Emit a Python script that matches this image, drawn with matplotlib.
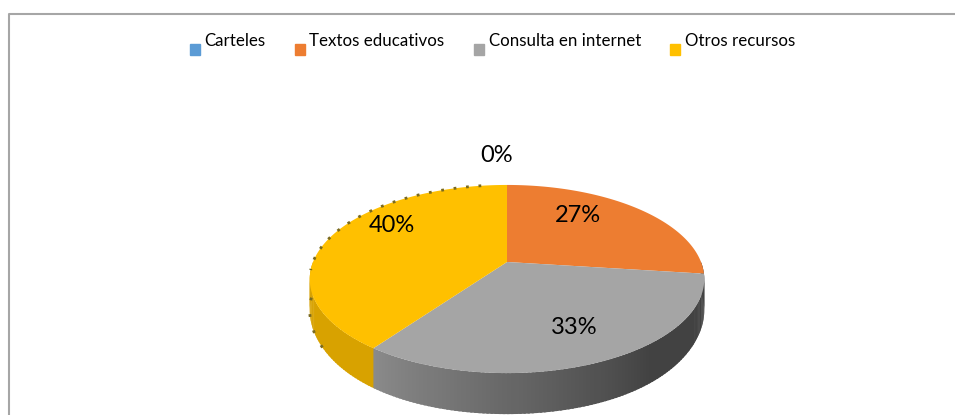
import numpy as np
import matplotlib
matplotlib.use('Agg')
import matplotlib.pyplot as plt
from matplotlib.patches import Patch, Rectangle
from matplotlib.legend_handler import HandlerPatch

plt.rcParams['font.family'] = ['Lato', 'DejaVu Sans']

# data
categories = ['Carteles', 'Textos educativos', 'Consulta en internet', 'Otros recursos']
values = [0, 27, 33, 40]
colors = ['#5B9BD5', '#ED7D31', '#A5A5A5', '#FFC000']
label_pos = [(497, 155), (578, 215), (574, 327), (392, 225)]

# pie geometry, in pixels of the picture
cx, cy = 507, 262
rx, ry = 194, 91
tilt = 0.181
depth = 41


def project(theta):
    # circle seen in perspective, so the near half comes out larger
    d = 1 + tilt * np.sin(theta)
    return cx + rx * np.cos(theta) / d, cy - ry * np.sin(theta) / d


def project_low(theta):
    # lower rim of the side wall, wall looks shallower towards the sides
    x, y = project(theta)
    return x, y + depth * (1 - 0.25 * np.cos(theta) ** 4)


def square_below(legend, orig_handle, xdescent, ydescent, width, height, fontsize):
    # legend squares sit lower than the text in the original
    return Rectangle((0, -6.3), 7.2, 7.9)


fig = plt.figure(figsize=(9.55, 4.15), dpi=100)
ax = fig.add_axes([0, 0, 1, 1])
ax.set_xlim(0, 955)
ax.set_ylim(415, 0)
ax.axis('off')

# chart frame, only left and top show in the crop
ax.plot([8.5, 8.5, 955], [415, 14, 14], color='#a6a6a6', lw=1.5)

# slice angles, clockwise from the top
edges = 90 - np.cumsum([0] + values) * 3.6
angles = np.radians(edges)

# side wall of the pie
t_split = angles[3]
ts = np.radians(np.linspace(-180, 0, 181))
for a, b in zip(ts[:-1], ts[1:]):
    x0, y0 = project(a)
    x1, y1 = project(b + 0.01)
    x2, y2 = project_low(b + 0.01)
    x3, y3 = project_low(a)
    if a < t_split:
        col = '#d8a200'
    else:
        f = min((a - t_split) / np.radians(75), 1.0)
        g = 0.54 + (0.26 - 0.54) * f
        col = (g, g, g)
    ax.fill([x0, x1, x2, x3], [y0, y1, y2, y3], color=col, lw=0)

# top of the pie
for i in range(len(values)):
    if values[i] == 0:
        continue
    t = np.linspace(angles[i], angles[i + 1], 200)
    x, y = project(t)
    ax.fill(np.r_[cx, x], np.r_[cy, y], color=colors[i], lw=0)

# dotted edge on the back left of the yellow slice
t = np.radians(np.linspace(99, 185, 60))
x, y = project(t)
ax.plot(x, y, color='#7a6a20', lw=2, ls=(0, (1, 3.5)))
t = np.radians(np.linspace(-177, -145, 20))
x, y = project_low(t)
ax.plot(x, y, color='#7a6a20', lw=2, ls=(0, (1, 5)))

# percentage labels
for v, pos in zip(values, label_pos):
    ax.text(pos[0], pos[1], f'{v}%', fontsize=17, color='black', ha='center', va='center')

handles = [Patch(color=c, label=n) for c, n in zip(colors, categories)]
leg = ax.legend(handles=handles, ncol=4, loc='center', bbox_to_anchor=(492.5 / 955, 1 - 41 / 415),
                frameon=False, fontsize=12.2, handlelength=0.59, handletextpad=0.27,
                columnspacing=1.74, borderpad=0, borderaxespad=0,
                handler_map={Patch: HandlerPatch(patch_func=square_below)})

fig.savefig('out.png', dpi=100)
